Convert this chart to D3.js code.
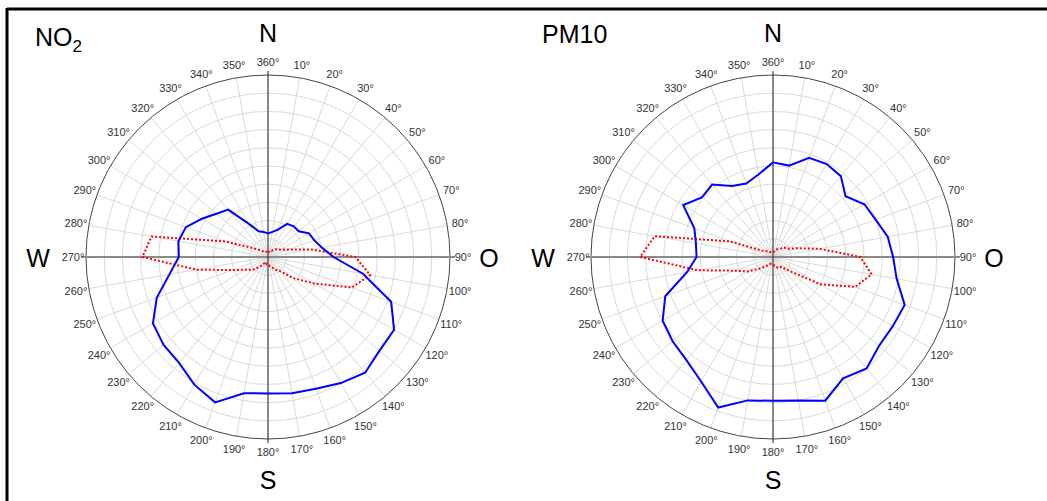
<!DOCTYPE html>
<html>
<head>
<meta charset="utf-8">
<script src="https://cdn.jsdelivr.net/npm/d3@7"></script>
<style>
  html, body { margin: 0; padding: 0; background: #fff; }
  svg { display: block; }
  text { font-family: Arial, "Liberation Sans", sans-serif; }
</style>
</head>
<body>
<svg id="chart" width="1047" height="501"></svg>
<script>
// Wind directions (degrees, compass, clockwise from north)
const directions = [0,10,20,30,40,50,60,70,80,90,100,110,120,130,140,150,160,170,
                    180,190,200,210,220,230,240,250,260,270,280,290,300,310,320,330,340,350];

// NO2 chart: concentration rose (blue) and wind frequency rose (red, dotted)
const no2Conc = [13,14,16,21,22,22,26,27,30,36,53,72,80,80,83,80,77,76,
                 75,76,85,81,76,75,73,65,55,49,50,48,42,37,34,21,15,14];
const no2Wind = [3,3,4,4,5,7,8,12,24,48,57,49,29,18,10,8,6,5,
                 4,4,3,4,7,11,14,21,40,69,65,25,10,6,4,3,3,3];

// PM10 chart
const pm10Conc = [52,51,58,59,58,52,58,60,64,66,69,77,76,76,80,77,84,80,
                  79,80,88,79,74,72,70,63,48,42,43,46,57,51,52,45,43,46];
const pm10Wind = [3,3,4,5,6,8,9,14,26,48,55,48,30,12,7,7,6,5,
                  4,4,4,5,7,10,16,22,42,73,66,25,7,5,4,3,3,3];

const degreeLabels = ["360°","10°","20°","30°","40°","50°","60°","70°","80°","90°","100°","110°",
  "120°","130°","140°","150°","160°","170°","180°","190°","200°","210°","220°","230°",
  "240°","250°","260°","270°","280°","290°","300°","310°","320°","330°","340°","350°"];
const compass = ["N","O","S","W"];

const svg = d3.select("#chart");
svg.append("rect").attr("width",1047).attr("height",501).attr("fill","#fff");
// frame lines (top and left)
svg.append("line").attr("x1",7).attr("x2",1047).attr("y1",9).attr("y2",9)
  .attr("stroke","#000").attr("stroke-width",3);
svg.append("line").attr("x1",7).attr("x2",7).attr("y1",8).attr("y2",501)
  .attr("stroke","#000").attr("stroke-width",3);

const R = 182;
const angle = d3.scaleLinear().domain([0,360]).range([0, 2*Math.PI]);
const rad = d3.scaleLinear().domain([0,100]).range([0,R]);

function drawRose(cx, cy, conc, wind) {
  const g = svg.append("g").attr("transform",`translate(${cx},${cy})`);
  // rings
  g.selectAll("circle.ring").data(rad.ticks(10).filter(d=>d>0 && d<100)).join("circle")
    .attr("r", d=>rad(d)).attr("fill","none").attr("stroke","#d9d9d9").attr("stroke-width",1);
  // spokes
  g.selectAll("line.spoke").data(directions).join("line")
    .attr("x1",0).attr("y1",0)
    .attr("x2", d=>rad(100)*Math.sin(angle(d)))
    .attr("y2", d=>-rad(100)*Math.cos(angle(d)))
    .attr("stroke","#d9d9d9").attr("stroke-width",1);
  // outer circle
  g.append("circle").attr("r",rad(100)).attr("fill","none").attr("stroke","#444").attr("stroke-width",1);
  // main axes
  g.append("line").attr("x1",-R-5).attr("x2",R+5).attr("y1",0).attr("y2",0)
    .attr("stroke","#8a8a8a").attr("stroke-width",2);
  g.append("line").attr("x1",0).attr("x2",0).attr("y1",-R-4).attr("y2",R+4)
    .attr("stroke","#222").attr("stroke-width",1);
  // degree labels
  g.selectAll("text.deg").data(directions).join("text")
    .attr("x", d=>(R+13)*Math.sin(angle(d)))
    .attr("y", d=>-(R+13)*Math.cos(angle(d)))
    .attr("text-anchor","middle").attr("dominant-baseline","central")
    .attr("font-size",11).attr("fill","#333")
    .text((d,i)=>degreeLabels[i]);

  const line = d3.lineRadial()
    .angle((d,i)=>angle(directions[i]))
    .radius(d=>rad(d))
    .curve(d3.curveLinearClosed);
  // wind frequency (red dotted)
  g.append("path").attr("d", line(wind)).attr("fill","none")
    .attr("stroke","#ff0000").attr("stroke-width",2).attr("stroke-dasharray","2,2");
  // concentration (blue)
  g.append("path").attr("d", line(conc)).attr("fill","none")
    .attr("stroke","#0000ff").attr("stroke-width",2);

  // compass letters
  const cpos = [[0,-224],[221,1],[0,223],[-230,1]];
  g.selectAll("text.cmp").data(compass).join("text")
    .attr("x",(d,i)=>cpos[i][0]).attr("y",(d,i)=>cpos[i][1])
    .attr("text-anchor","middle").attr("dominant-baseline","central")
    .attr("font-size",25).attr("fill","#000").text(d=>d);
}

drawRose(268, 257, no2Conc, no2Wind);
drawRose(773, 257, pm10Conc, pm10Wind);

// titles
const t1 = svg.append("text").attr("x",35).attr("y",46).attr("font-size",25).attr("fill","#000");
t1.append("tspan").text("NO");
t1.append("tspan").attr("font-size",17).attr("dy",6).text("2");
svg.append("text").attr("x",542).attr("y",43).attr("font-size",25).attr("fill","#000").text("PM10");
</script>
</body>
</html>
